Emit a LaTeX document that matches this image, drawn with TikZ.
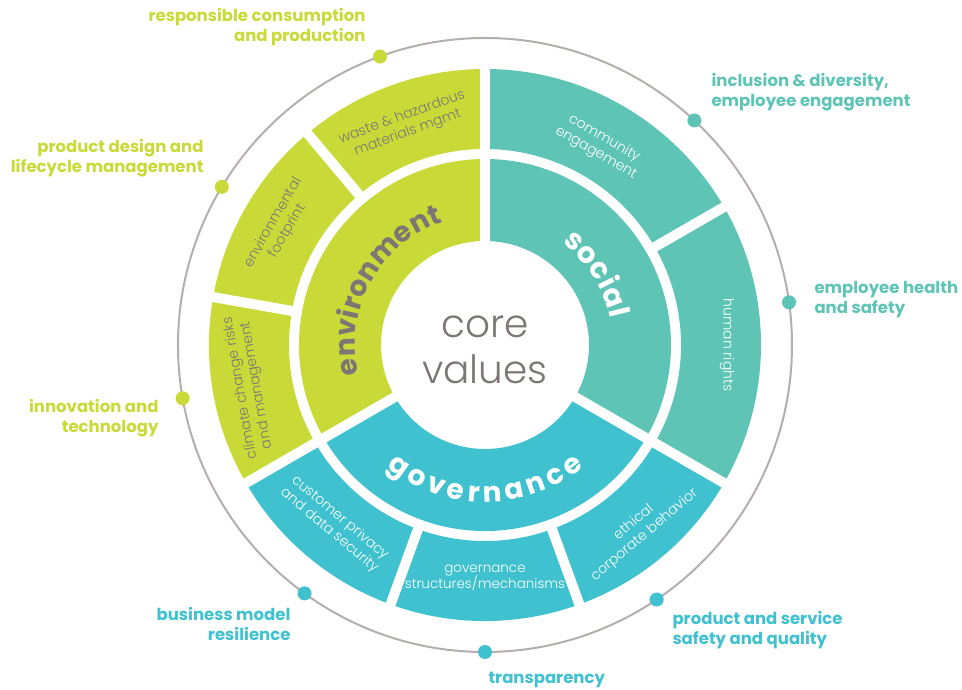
\documentclass[tikz,border=0pt]{standalone}
\usepackage{fontspec}
\setmainfont{Poppins}
\newfontfamily\lightfont{Poppins Light}
\usepackage{xcolor}
\usepackage{tikz}
\usetikzlibrary{decorations.text}

\definecolor{envgreen}{HTML}{C9DA38}
\definecolor{socteal}{HTML}{5EC4B6}
\definecolor{govcyan}{HTML}{3FC1CF}
\definecolor{textgray}{HTML}{7C7674}
\definecolor{ringgray}{HTML}{B4AFAD}

\tikzset{
  sublabel/.style={align=center, font=\lightfont\fontsize{14}{16.5}\selectfont},
  outlabel/.style={font=\bfseries\fontsize{16.5}{20}\selectfont},
  topicdot/.style={circle, inner sep=0pt, minimum size=14pt},
}

\begin{document}
\begin{tikzpicture}[x=1pt, y=1pt]
\useasboundingbox (-485,-345) rectangle (477,345);

% pillars and topics
\foreach \a/\b/\col in {90/210/envgreen, 210/330/govcyan, -30/90/socteal} {
  \fill[\col] (\a:104) arc[start angle=\a, end angle=\b, radius=104] -- (\b:186) arc[start angle=\b, end angle=\a, radius=186] -- cycle;
  \fill[\col] (\a:196) arc[start angle=\a, end angle=\b, radius=196] -- (\b:276) arc[start angle=\b, end angle=\a, radius=276] -- cycle;
}
\foreach \a in {90,210,330}
  \draw[white, line width=10pt] (\a:95) -- (\a:285);
\foreach \a in {130,170,250,290,30}
  \draw[white, line width=10pt] (\a:190) -- (\a:285);

\node[textgray, align=center, font=\lightfont\fontsize{39}{46}\selectfont] (core) at (0,-5) {core\\values};

\path[decorate, decoration={text along path, text={|\bfseries\fontsize{28}{28}\selectfont|environment}, text color=textgray, text align={fit to path}}]
  (193:130) arc[start angle=193, end angle=109, radius=130];
\path[decorate, decoration={text along path, text={|\bfseries\fontsize{29}{29}\selectfont|social}, text color=white, text align={fit to path}}]
  (53:128) arc[start angle=53, end angle=12, radius=128];
\path[decorate, decoration={text along path, text={|\bfseries\fontsize{28}{28}\selectfont|governance}, text color=white, text align={fit to path}}]
  (231:157) arc[start angle=231, end angle=309, radius=157];

\node[sublabel, textgray, rotate=20] (waste) at (110:234) {waste \& hazardous\\materials mgmt};
\node[sublabel, textgray, rotate=60] (footprint) at (150:236) {environmental\\footprint};
\node[sublabel, textgray, rotate=100] (climate) at (190:240) {climate change risks\\and management};
\node[sublabel, white, rotate=-30] (community) at (60:230) {community\\engagement};
\node[sublabel, white, rotate=-90] (rights) at (0:242) {human rights};
\node[sublabel, white, rotate=-40] (privacy) at (230:234) {customer privacy\\and data security};
\node[sublabel, white, font=\lightfont\fontsize{13.5}{16.5}\selectfont] (structures) at (270:233) {governance\\structures/mechanisms};
\node[sublabel, white, rotate=40] (ethical) at (310:240) {ethical\\corporate behavior};

% outer circle with goals
\draw[ringgray, line width=2pt] (0,0) circle[radius=307];
\foreach \ang/\col/\name in {110/envgreen/resp, 149/envgreen/design, 190/envgreen/innov, 234/govcyan/business, 270/govcyan/transp, 304/govcyan/safety, 8/socteal/health, 47/socteal/inclusion}
  \node[topicdot, fill=\col] (dot\name) at (\ang:307) {};

\node[outlabel, envgreen, anchor=east, align=right] (resp) at (-116,318) {responsible consumption\\and production};
\node[outlabel, envgreen, anchor=east, align=right] (design) at (-278,187) {product design and\\lifecycle management};
\node[outlabel, envgreen, anchor=east, align=right] (innov) at (-323,-73) {innovation and\\technology};
\node[outlabel, govcyan, anchor=east, align=right] (business) at (-191,-279) {business model\\resilience};
\node[outlabel, govcyan, anchor=west] (transp) at (0,-335) {transparency};
\node[outlabel, govcyan, anchor=west, align=left] (safety) at (184,-285) {product and service\\safety and quality};
\node[outlabel, socteal, anchor=west, align=left] (health) at (326,45) {employee health\\and safety};
\node[outlabel, socteal, anchor=west, align=left] (inclusion) at (223,253) {inclusion \& diversity,\\employee engagement};
\end{tikzpicture}
\end{document}
